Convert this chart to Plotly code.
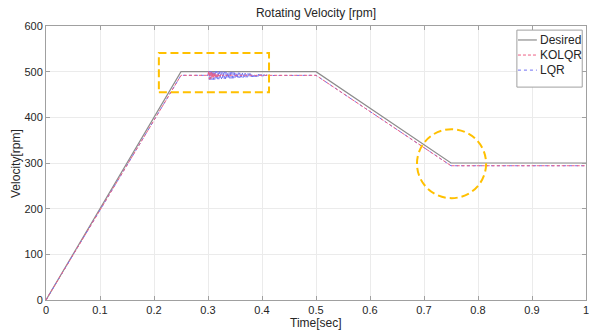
import plotly.graph_objects as go

# ---- data ----
desired_t = [0.0, 0.25, 0.5, 0.75, 1.0]
desired_v = [0, 500, 500, 300, 300]

osc_t = [0.30000, 0.30125, 0.30250, 0.30375, 0.30500, 0.30625, 0.30750, 0.30875,
         0.31000, 0.31125, 0.31250, 0.31375, 0.31500, 0.31625, 0.31750, 0.31875,
         0.32000, 0.32125, 0.32250, 0.32375, 0.32500, 0.32625, 0.32750, 0.32875,
         0.33000, 0.33125, 0.33250, 0.33375, 0.33500, 0.33625, 0.33750, 0.33875,
         0.34000, 0.34125, 0.34250, 0.34375, 0.34500, 0.34625, 0.34750, 0.34875,
         0.35000, 0.35125, 0.35250, 0.35375, 0.35500, 0.35625, 0.35750, 0.35875,
         0.36000, 0.36125, 0.36250, 0.36375, 0.36500, 0.36625, 0.36750, 0.36875,
         0.37000, 0.37125, 0.37250, 0.37375, 0.37500, 0.37625, 0.37750, 0.37875,
         0.38000, 0.38125, 0.38250, 0.38375, 0.38500, 0.38625, 0.38750, 0.38875,
         0.39000, 0.39125, 0.39250, 0.39375, 0.39500, 0.39625, 0.39750, 0.39875,
         0.40000, 0.40125, 0.40250, 0.40375, 0.40500, 0.40625, 0.40750, 0.40875,
         0.41000, 0.41125, 0.41250, 0.41375, 0.41500, 0.41625, 0.41750, 0.41875,
         0.42000]

lqr_osc = [492.0,
           502.0, 482.1, 501.8, 482.3, 501.6, 482.5, 501.4, 482.7, 501.2, 482.9,
           501.0, 483.1, 500.8, 483.3, 500.6, 483.5, 500.4, 483.7, 500.2, 483.9,
           500.0, 484.1, 499.8, 484.3, 499.6, 484.5, 499.4, 484.7, 499.2, 484.9,
           499.0, 485.1, 498.8, 485.3, 498.6, 485.5, 498.4, 485.7, 498.2, 485.9,
           498.0, 486.1, 497.8, 486.3, 497.6, 486.5, 497.4, 486.7, 497.2, 486.9,
           497.0, 487.1, 496.8, 487.3, 496.6, 487.5, 496.4, 487.7, 496.2, 487.9,
           496.0, 488.1, 495.8, 488.3, 495.6, 488.5, 495.4, 488.7, 495.2, 488.9,
           495.0, 489.1, 494.8, 489.3, 494.6, 489.5, 494.4, 489.7, 494.2, 489.9,
           494.0, 490.1, 493.8, 490.3, 493.6, 490.5, 493.4, 490.7, 493.2, 490.9,
           493.0, 491.1, 492.8, 491.3, 492.6, 491.6]

kolqr_osc = [492.0,
             501.0, 483.5, 500.0, 484.5, 499.0, 485.5, 498.0, 486.5, 497.0, 487.5,
             496.0, 488.5, 495.2, 489.2, 494.5, 489.8, 494.0, 490.3, 493.5, 490.7,
             493.1, 491.0, 492.8, 491.2, 492.6, 491.4, 492.5, 491.5, 492.4, 491.6,
             492.3, 491.7, 492.3, 491.7, 492.3, 491.7, 492.3, 491.7, 492.3, 491.7,
             492.3, 491.7, 492.3, 491.7, 492.3, 491.7, 492.3, 491.7, 492.3, 491.7,
             492.2, 491.8, 492.2, 491.8, 492.2, 491.8, 492.2, 491.8, 492.2, 491.8,
             492.2, 491.8, 492.2, 491.8, 492.2, 491.8, 492.2, 491.8, 492.2, 491.8,
             492.1, 491.9, 492.1, 491.9, 492.1, 491.9, 492.1, 491.9, 492.1, 491.9,
             492.1, 491.9, 492.1, 491.9, 492.1, 491.9, 492.1, 491.9, 492.1, 491.9,
             492.1, 491.9, 492.1, 491.9, 492.1, 492.0]

ramp_t = [0.0, 0.25]
ramp_v = [0, 492]
tail_t = [0.5, 0.75, 1.0]
tail_v = [492, 294, 294]

x_ticks = [0, 0.1, 0.2, 0.3, 0.4, 0.5, 0.6, 0.7, 0.8, 0.9, 1]
y_ticks = [0, 100, 200, 300, 400, 500, 600]

series_names = ["Desired", "KOLQR", "LQR"]
series_colors = ["#8c8c8c", "#ee5f84", "#6f6ff2"]
series_dash = ["solid", "3px,2px", "dot"]

# highlight regions (data coordinates)
rect_box = [0.209, 0.413, 455, 541]
circle_box = [0.687, 0.815, 223, 374]

kolqr_t = ramp_t + osc_t + tail_t
kolqr_v = ramp_v + kolqr_osc + tail_v
lqr_t = ramp_t + osc_t + tail_t
lqr_v = ramp_v + lqr_osc + tail_v

font_family = "Liberation Sans, Arial, Helvetica, sans-serif"
txt = "#262626"
axc = "#a0a0a0"

fig = go.Figure()
fig.add_trace(go.Scatter(x=desired_t, y=desired_v, mode="lines", name=series_names[0],
                         line=dict(color=series_colors[0], width=1.2)))
fig.add_trace(go.Scatter(x=lqr_t, y=lqr_v, mode="lines", name=series_names[2],
                         line=dict(color=series_colors[2], width=1, dash=series_dash[2])))
fig.add_trace(go.Scatter(x=kolqr_t, y=kolqr_v, mode="lines", name=series_names[1],
                         line=dict(color=series_colors[1], width=1, dash=series_dash[1])))

dash_style = dict(color="#FFC000", width=2, dash="8px,4px")
fig.add_shape(type="rect", x0=rect_box[0], x1=rect_box[1], y0=rect_box[2], y1=rect_box[3],
              line=dash_style, xref="x", yref="y")
fig.add_shape(type="circle", x0=circle_box[0], x1=circle_box[1], y0=circle_box[2], y1=circle_box[3],
              line=dash_style, xref="x", yref="y")

# custom legend (MATLAB style) in paper coordinates
leg_x0, leg_x1, leg_y0, leg_y1 = 0.872, 0.993, 0.777, 0.985
fig.add_shape(type="rect", xref="paper", yref="paper", x0=leg_x0, x1=leg_x1, y0=leg_y0, y1=leg_y1,
              line=dict(color=axc, width=1), fillcolor="white", layer="above")
entry_y = [0.949, 0.894, 0.839]
for name, col, dsh, yy in zip(series_names, series_colors, series_dash, entry_y):
    fig.add_shape(type="line", xref="paper", yref="paper", x0=0.874, x1=0.909, y0=yy, y1=yy,
                  line=dict(color=col, width=1.2 if dsh == "solid" else 1, dash=dsh), layer="above")
    fig.add_annotation(xref="paper", yref="paper", x=0.912, y=yy, text=name, showarrow=False,
                       xanchor="left", yanchor="middle",
                       font=dict(family=font_family, size=12, color=txt))

axis_common = dict(showline=True, linecolor=axc, linewidth=1, mirror="ticks",
                   ticks="inside", ticklen=4, tickcolor=axc, automargin=False,
                   showgrid=True, gridcolor="#ebebeb", gridwidth=1, zeroline=False,
                   ticklabeloverflow="allow",
                   tickfont=dict(family=font_family, size=11, color=txt))

fig.update_xaxes(range=[0, 1], tickvals=x_ticks, ticktext=[str(v) for v in x_ticks], **axis_common)
fig.update_yaxes(range=[0, 600], tickvals=y_ticks, **axis_common)

fig.add_annotation(xref="paper", yref="paper", x=0.5, y=-0.084, text="Time[sec]", showarrow=False,
                   xanchor="center", yanchor="middle", font=dict(family=font_family, size=12, color=txt))
fig.add_annotation(xref="paper", yref="paper", x=-0.0556, y=0.5, text="Velocity[rpm]", showarrow=False,
                   textangle=-90, xanchor="center", yanchor="middle",
                   font=dict(family=font_family, size=12, color=txt))

fig.update_layout(
    width=589, height=334,
    margin=dict(l=46, r=3, t=26, b=34),
    paper_bgcolor="white", plot_bgcolor="white",
    title=dict(text="Rotating Velocity [rpm]", x=0.5365, xanchor="center", y=0.961, yanchor="middle",
               font=dict(family=font_family, size=12, color=txt)),
    showlegend=False,
)

fig.write_html("out.html", config={"displayModeBar": False},
               post_script="document.body.style.margin='0';document.body.style.overflow='hidden';")
